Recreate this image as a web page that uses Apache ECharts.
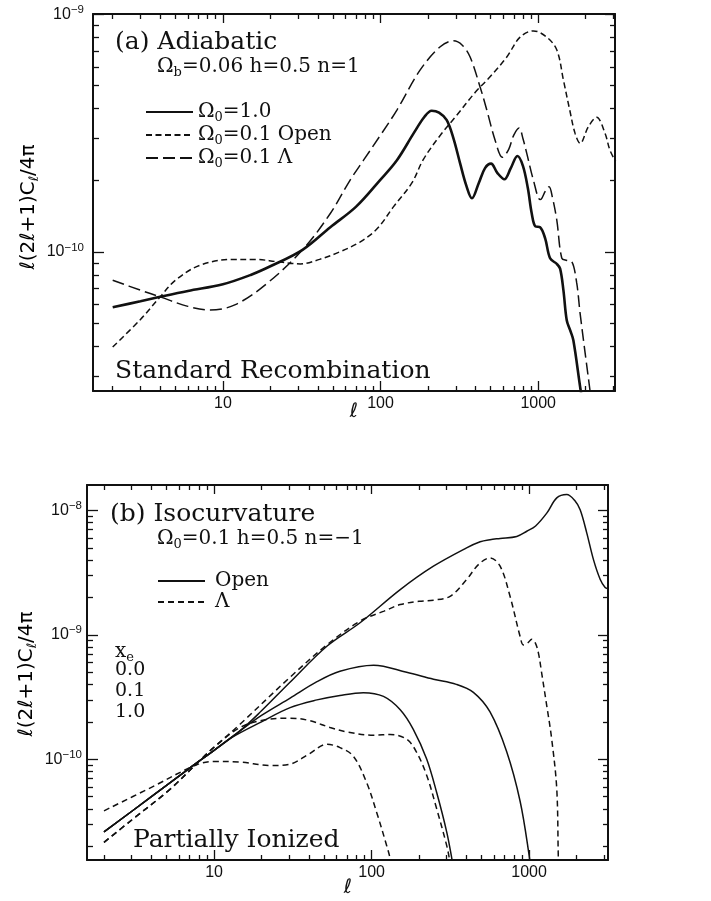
<!DOCTYPE html>
<html><head><meta charset="utf-8">
<script src="https://cdn.jsdelivr.net/npm/echarts@6/dist/echarts.min.js"></script>
<style>html,body{margin:0;padding:0;background:#fff}#c{width:711px;height:901px}</style>
</head><body><div id="c"></div>
<script>
// ---------- Panel (a) Adiabatic ----------
const aOmega1L = [2, 3, 4, 6, 10, 15, 20, 32, 48, 70, 99, 127, 162, 190, 211, 235, 263, 290, 320, 350, 380, 420, 460, 502, 550, 610, 670, 738, 800, 860, 910, 960, 1028, 1107, 1190, 1312, 1377, 1445, 1517, 1592, 1671, 1862, 1950];
const aOmega1C = [5.85e-11, 6.2e-11, 6.47e-11, 6.85e-11, 7.31e-11, 8.0e-11, 8.7e-11, 1.02e-10, 1.27e-10, 1.55e-10, 2.0e-10, 2.43e-10, 3.15e-10, 3.7e-10, 3.92e-10, 3.85e-10, 3.58e-10, 3.0e-10, 2.35e-10, 1.9e-10, 1.68e-10, 1.95e-10, 2.25e-10, 2.35e-10, 2.15e-10, 2.02e-10, 2.25e-10, 2.53e-10, 2.3e-10, 1.85e-10, 1.45e-10, 1.28e-10, 1.27e-10, 1.14e-10, 9.4e-11, 8.9e-11, 8.5e-11, 6.9e-11, 5.16e-11, 4.7e-11, 4.25e-11, 2.6e-11, 2.2e-11];

const aOpenL = [2, 3, 4, 5, 7.2, 11.7, 16, 22, 31, 41, 55, 74, 95, 121, 158, 187, 240, 304, 400, 495, 632, 767, 933, 1133, 1313, 1445, 1585, 1714, 1845, 2080, 2347, 2656, 2850, 3100];
const aOpenC = [3.98e-11, 5.2e-11, 6.47e-11, 7.6e-11, 8.8e-11, 9.3e-11, 9.3e-11, 9.1e-11, 8.9e-11, 9.3e-11, 1.0e-10, 1.1e-10, 1.25e-10, 1.55e-10, 1.95e-10, 2.45e-10, 3.1e-10, 3.75e-10, 4.7e-10, 5.45e-10, 6.6e-10, 8.0e-10, 8.5e-10, 8.0e-10, 7.06e-10, 5.28e-10, 3.95e-10, 3.15e-10, 2.86e-10, 3.36e-10, 3.68e-10, 3.15e-10, 2.68e-10, 2.4e-10];

const aLambdaL = [2, 3, 4, 6, 8.3, 12, 19, 32, 48, 64, 78, 100, 127, 178, 239, 290, 330, 370, 428, 472, 533, 593, 650, 700, 757, 800, 847, 933, 1028, 1054, 1110, 1172, 1230, 1312, 1412, 1520, 1633, 1755, 1845, 2133, 2250];
const aLambdaC = [7.6e-11, 6.9e-11, 6.47e-11, 5.9e-11, 5.69e-11, 6.0e-11, 7.36e-11, 1.02e-10, 1.45e-10, 2.0e-10, 2.43e-10, 3.1e-10, 3.95e-10, 5.81e-10, 7.29e-10, 7.72e-10, 7.4e-10, 6.6e-10, 4.94e-10, 3.95e-10, 2.95e-10, 2.5e-10, 2.7e-10, 3.1e-10, 3.32e-10, 3.0e-10, 2.59e-10, 2.0e-10, 1.66e-10, 1.68e-10, 1.8e-10, 1.88e-10, 1.7e-10, 1.36e-10, 9.4e-11, 9.2e-11, 9.1e-11, 7.4e-11, 5.5e-11, 2.6e-11, 2.0e-11];

// ---------- Panel (b) Isocurvature ----------
const bOpen00L = [2, 4, 7, 10, 14.6, 20, 30, 52, 84.5, 152, 247, 401, 489, 565, 655, 835, 967, 1100, 1295, 1499, 1734, 1950, 2110, 2323, 2566, 2825, 3040, 3170];
const bOpen00C = [2.61e-11, 5.0e-11, 8.5e-11, 1.18e-10, 1.69e-10, 2.45e-10, 4.1e-10, 8.1e-10, 1.25e-9, 2.31e-9, 3.56e-9, 5.0e-9, 5.6e-9, 5.82e-9, 5.95e-9, 6.18e-9, 6.8e-9, 7.5e-9, 9.5e-9, 1.26e-8, 1.34e-8, 1.2e-8, 1.01e-8, 6.6e-9, 4.0e-9, 2.8e-9, 2.4e-9, 2.35e-9];

const bOpen01L = [2, 4, 7, 10, 14.6, 20, 30.4, 45, 63, 103, 167, 247, 345, 443, 565, 721, 877, 1000, 1030];
const bOpen01C = [2.61e-11, 5.0e-11, 8.5e-11, 1.18e-10, 1.69e-10, 2.25e-10, 3.1e-10, 4.2e-10, 5.1e-10, 5.7e-10, 5.0e-10, 4.4e-10, 4.0e-10, 3.45e-10, 2.4e-10, 1.15e-10, 4.6e-11, 1.7e-11, 1.2e-11];

const bOpen10L = [2, 4, 7, 10, 13, 20, 30.4, 45, 63, 88.6, 119, 152, 184, 224, 259, 300, 323, 335];
const bOpen10C = [2.61e-11, 5.0e-11, 8.5e-11, 1.18e-10, 1.5e-10, 2.0e-10, 2.6e-10, 3.0e-10, 3.26e-10, 3.43e-10, 3.2e-10, 2.5e-10, 1.74e-10, 1.0e-10, 5.4e-11, 2.6e-11, 1.6e-11, 1.2e-11];

const bLam00L = [2, 3, 5.26, 8, 10, 14.6, 30, 52, 84.5, 120, 152, 200, 247, 315, 401, 480, 565, 655, 757, 877, 920, 980, 1040, 1100, 1150, 1200, 1295, 1392, 1499, 1535, 1560];
const bLam00C = [2.15e-11, 3.25e-11, 5.75e-11, 9.6e-11, 1.25e-10, 1.91e-10, 4.5e-10, 8.3e-10, 1.29e-9, 1.55e-9, 1.75e-9, 1.86e-9, 1.9e-9, 2.04e-9, 2.78e-9, 3.7e-9, 4.15e-9, 3.56e-9, 2.04e-9, 9.7e-10, 8.3e-10, 8.6e-10, 9.2e-10, 8.5e-10, 7e-10, 5e-10, 2.69e-10, 1.45e-10, 5.75e-11, 1.55e-11, 1e-11];

const bLam01L = [2, 3, 5.26, 8, 10, 14.6, 20, 30.4, 40, 54.5, 69.6, 103, 131, 167, 193, 224, 259, 300, 313, 325];
const bLam01C = [2.15e-11, 3.25e-11, 5.75e-11, 9.6e-11, 1.25e-10, 1.8e-10, 2.05e-10, 2.14e-10, 2.05e-10, 1.8e-10, 1.66e-10, 1.56e-10, 1.58e-10, 1.45e-10, 1.14e-10, 7.4e-11, 4.0e-11, 2.02e-11, 1.55e-11, 1.2e-11];

const bLam10L = [2, 4, 7.7, 10, 14.6, 22.7, 30, 40, 52, 63, 76.5, 93, 108, 125, 132, 140];
const bLam10C = [3.85e-11, 5.95e-11, 9.0e-11, 9.6e-11, 9.5e-11, 8.9e-11, 9.1e-11, 1.1e-10, 1.32e-10, 1.24e-10, 1.06e-10, 6.5e-11, 3.7e-11, 2.0e-11, 1.55e-11, 1.1e-11];

// ---------- Ticks ----------
const xMajorTicks = [10, 100, 1000];
const xMinorTicks = [2, 3, 4, 5, 6, 7, 8, 9, 20, 30, 40, 50, 60, 70, 80, 90, 200, 300, 400, 500, 600, 700, 800, 900, 2000, 3000];
const aYMajorTicks = [1e-10, 1e-9];
const aYMinorTicks = [3e-11, 4e-11, 5e-11, 6e-11, 7e-11, 8e-11, 9e-11, 2e-10, 3e-10, 4e-10, 5e-10, 6e-10, 7e-10, 8e-10, 9e-10];
const bYMajorTicks = [1e-10, 1e-9, 1e-8];
const bYMinorTicks = [2e-11, 3e-11, 4e-11, 5e-11, 6e-11, 7e-11, 8e-11, 9e-11, 2e-10, 3e-10, 4e-10, 5e-10, 6e-10, 7e-10, 8e-10, 9e-10, 2e-9, 3e-9, 4e-9, 5e-9, 6e-9, 7e-9, 8e-9, 9e-9];

const BLACK = '#111';
const SERIF = 'DejaVu Serif';
const SANS = 'Liberation Sans';

function pairs(L, C) { return L.map((l, i) => [l, C[i]]); }

function mkX(grid, min, max, pos, ticks, len, withLine, withLabels) {
  return {
    type: 'log', logBase: 10, gridIndex: grid, min: min, max: max, position: pos,
    axisLine: { show: withLine, onZero: false, lineStyle: { color: BLACK, width: 2 } },
    axisTick: { show: true, inside: true, length: len, customValues: ticks, lineStyle: { color: BLACK, width: 1.3 } },
    axisLabel: withLabels ? { show: true, customValues: ticks, margin: 5, color: BLACK, fontFamily: SANS, fontSize: 16, formatter: v => String(Math.round(v)) } : { show: false },
    splitLine: { show: false }, minorTick: { show: false }
  };
}
function mkY(grid, min, max, pos, ticks, len, withLine, withLabels, margin) {
  return {
    type: 'log', logBase: 10, gridIndex: grid, min: min, max: max, position: pos,
    axisLine: { show: withLine, onZero: false, lineStyle: { color: BLACK, width: 2 } },
    axisTick: { show: true, inside: true, length: len, customValues: ticks, lineStyle: { color: BLACK, width: 1.3 } },
    axisLabel: withLabels ? {
      show: true, customValues: ticks, margin: margin, color: BLACK,
      formatter: v => '{a|10}{b|' + String(Math.round(Math.log10(v))).replace('-', '\u2212') + '}',
      rich: {
        a: { fontFamily: SANS, fontSize: 16, lineHeight: 18, color: BLACK },
        b: { fontFamily: SANS, fontSize: 11.5, lineHeight: 12, padding: [0, 0, 9, 0], color: BLACK }
      }
    } : { show: false },
    splitLine: { show: false }, minorTick: { show: false }
  };
}

const aX = [1.5, 3070], aY = [2.6e-11, 1.001e-9];
const bX = [1.56, 3170], bY = [1.55e-11, 1.6e-8];

const xAxes = [
  mkX(0, aX[0], aX[1], 'bottom', xMajorTicks, 10, true, true),
  mkX(0, aX[0], aX[1], 'bottom', xMinorTicks, 5, false, false),
  mkX(0, aX[0], aX[1], 'top', xMajorTicks, 9, true, false),
  mkX(0, aX[0], aX[1], 'top', xMinorTicks, 5, false, false),
  mkX(1, bX[0], bX[1], 'bottom', xMajorTicks, 10, true, true),
  mkX(1, bX[0], bX[1], 'bottom', xMinorTicks, 5, false, false),
  mkX(1, bX[0], bX[1], 'top', xMajorTicks, 9, true, false),
  mkX(1, bX[0], bX[1], 'top', xMinorTicks, 5, false, false)
];
const yAxes = [
  mkY(0, aY[0], aY[1], 'left', aYMajorTicks, 11, true, true, 9),
  mkY(0, aY[0], aY[1], 'left', aYMinorTicks, 6, false, false),
  mkY(0, aY[0], aY[1], 'right', aYMajorTicks, 10, true, false),
  mkY(0, aY[0], aY[1], 'right', aYMinorTicks, 5, false, false),
  mkY(1, bY[0], bY[1], 'left', bYMajorTicks, 11, true, true, 5),
  mkY(1, bY[0], bY[1], 'left', bYMinorTicks, 6, false, false),
  mkY(1, bY[0], bY[1], 'right', bYMajorTicks, 10, true, false),
  mkY(1, bY[0], bY[1], 'right', bYMinorTicks, 5, false, false)
];

function line(name, L, C, axisIdx, width, dash) {
  return {
    type: 'line', name: name, xAxisIndex: axisIdx, yAxisIndex: axisIdx,
    data: pairs(L, C), showSymbol: false, symbol: 'none', smooth: 0.35, clip: true,
    lineStyle: { color: BLACK, width: width, type: dash },
    itemStyle: { color: BLACK }, silent: true, z: 3
  };
}

const series = [
  line('Ω0=1.0', aOmega1L, aOmega1C, 0, 2.6, 'solid'),
  line('Ω0=0.1 Open', aOpenL, aOpenC, 0, 1.5, [6, 3.5]),
  line('Ω0=0.1 Λ', aLambdaL, aLambdaC, 0, 1.5, [12, 5]),
  line('Open', bOpen00L, bOpen00C, 4, 1.5, 'solid'),
  line('Open', bOpen01L, bOpen01C, 4, 1.5, 'solid'),
  line('Open', bOpen10L, bOpen10C, 4, 1.5, 'solid'),
  line('Λ', bLam00L, bLam00C, 4, 1.5, [6, 4]),
  line('Λ', bLam01L, bLam01C, 4, 1.5, [6, 4]),
  line('Λ', bLam10L, bLam10C, 4, 1.5, [6, 4])
];

const txtRich = {
  m: { fontFamily: SERIF, fontSize: 20, lineHeight: 22, color: BLACK },
  s: { fontFamily: SERIF, fontSize: 13, lineHeight: 12, padding: [11, 0, 0, 0], color: BLACK }
};
function sub(main, s, rest) { return '{m|' + main + '}{s|' + s + '}{m|' + rest + '}'; }

function txt(x, y, text, size, extra) {
  return {
    type: 'text', x: x, y: y, silent: true,
    style: Object.assign({ text: text, fontFamily: SERIF, fontSize: size, fill: BLACK, verticalAlign: 'middle', align: 'left' }, extra || {})
  };
}

const yTitleRich = {
  m: { fontFamily: 'DejaVu Sans', fontSize: 20, lineHeight: 22, color: BLACK },
  s: { fontFamily: 'DejaVu Sans', fontSize: 13, lineHeight: 12, padding: [11, 0, 0, 0], color: BLACK }
};

const graphics = [
  txt(115, 42, '(a) Adiabatic', 25),
  txt(157, 67, sub('Ω', 'b', '=0.06 h=0.5 n=1'), 20, { rich: txtRich }),
  txt(115, 371, 'Standard Recombination', 25),
  txt(110, 514, '(b) Isocurvature', 25),
  txt(157, 539, sub('Ω', '0', '=0.1 h=0.5 n=\u22121'), 20, { rich: txtRich }),
  txt(115, 652, sub('x', 'e', ''), 20, { rich: txtRich }),
  txt(115, 670, '0.0', 19),
  txt(115, 691, '0.1', 19),
  txt(115, 712, '1.0', 19),
  txt(133, 840, 'Partially Ionized', 25),
  { type: 'text', x: 354, y: 412, silent: true, style: { text: 'ℓ', fontFamily: 'DejaVu Sans', fontStyle: 'italic', fontSize: 20, fill: BLACK, align: 'center', verticalAlign: 'middle' } },
  { type: 'text', x: 348, y: 888, silent: true, style: { text: 'ℓ', fontFamily: 'DejaVu Sans', fontStyle: 'italic', fontSize: 20, fill: BLACK, align: 'center', verticalAlign: 'middle' } },
  { type: 'text', x: 29, y: 207, rotation: Math.PI / 2, silent: true, style: { text: '{m|ℓ(2ℓ+1)C}{s|ℓ}{m|/4π}', align: 'center', verticalAlign: 'middle', rich: yTitleRich } },
  { type: 'text', x: 27, y: 674, rotation: Math.PI / 2, silent: true, style: { text: '{m|ℓ(2ℓ+1)C}{s|ℓ}{m|/4π}', align: 'center', verticalAlign: 'middle', rich: yTitleRich } }
];

function legendFmt(name) {
  if (name.indexOf('Ω0') === 0) return sub('Ω', '0', name.slice(2));
  return '{m|' + name + '}';
}

const option = {
  animation: false,
  backgroundColor: '#fff',
  grid: [
    { left: 93, top: 14, width: 522, height: 377, containLabel: false, outerBoundsMode: 'none', show: false },
    { left: 87, top: 485, width: 521, height: 375, containLabel: false, outerBoundsMode: 'none', show: false }
  ],
  xAxis: xAxes,
  yAxis: yAxes,
  legend: [
    { data: ['Ω0=1.0', 'Ω0=0.1 Open', 'Ω0=0.1 Λ'], orient: 'vertical', left: 145, top: 100, padding: 0, itemWidth: 47, itemHeight: 14, itemGap: -1, selectedMode: false, formatter: legendFmt, itemStyle: { opacity: 0 }, textStyle: { color: BLACK, rich: txtRich } },
    { data: ['Open', 'Λ'], orient: 'vertical', left: 157, top: 571, padding: 0, itemWidth: 47, itemHeight: 14, itemGap: 1, selectedMode: false, formatter: legendFmt, itemStyle: { opacity: 0 }, textStyle: { color: BLACK, padding: [0, 0, 0, 5], rich: txtRich } }
  ],
  series: series,
  graphic: graphics
};

const chart = echarts.init(document.getElementById('c'), null, { renderer: 'canvas' });
chart.setOption(option);
</script></body></html>
